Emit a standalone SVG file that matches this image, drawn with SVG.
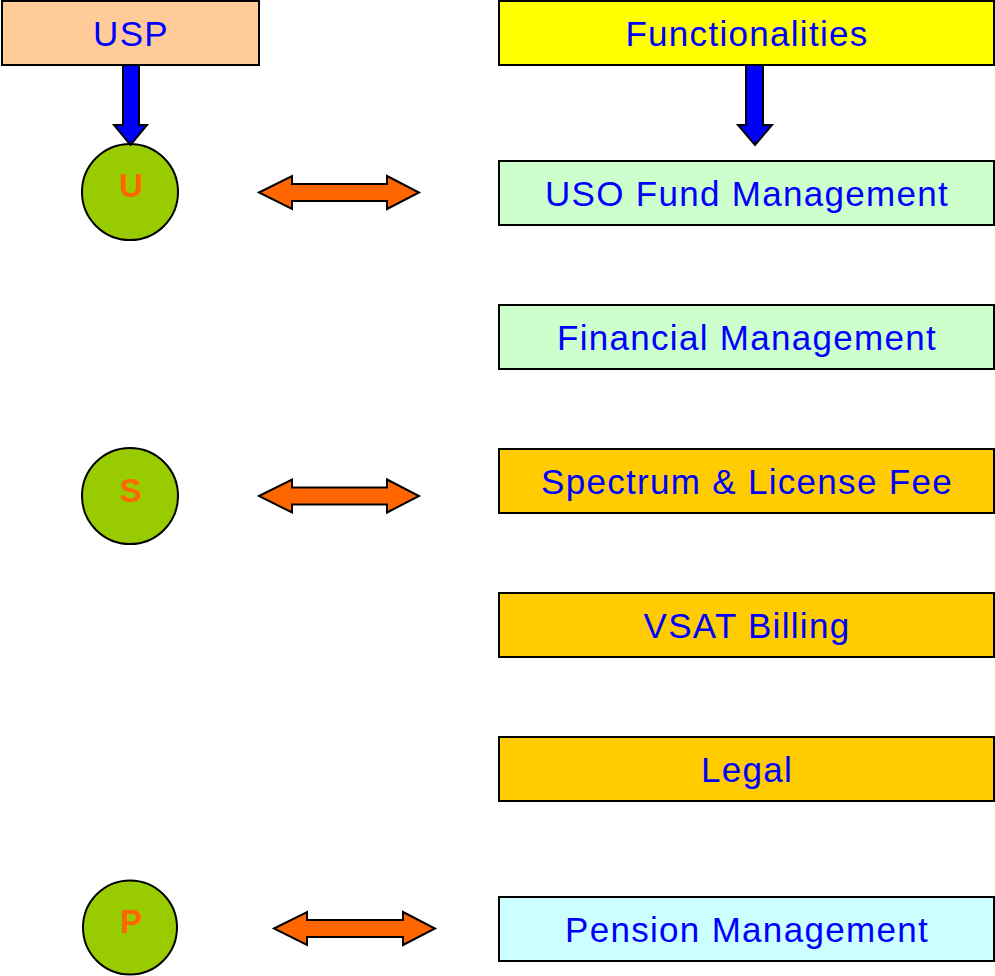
<svg xmlns="http://www.w3.org/2000/svg" width="995" height="976" viewBox="0 0 995 976">
<style>
.box{stroke:#000;stroke-width:2}
.lbl{font-family:"Liberation Sans",Arial,sans-serif;font-size:35px;letter-spacing:1.3px;fill:#0000FF;text-anchor:middle}
.circ{fill:#99CC00;stroke:#000;stroke-width:2}
.cl{font-family:"Liberation Sans",Arial,sans-serif;font-size:33px;font-weight:bold;fill:#FF6600;text-anchor:middle}
.down{fill:#0000FF;stroke:#000;stroke-width:2;stroke-linejoin:miter}
.dbl{fill:#FF6600;stroke:#000;stroke-width:2;stroke-linejoin:miter}
</style>
<rect width="995" height="976" fill="#fff"/>
<g id="usp"><rect class="box" x="2" y="1" width="257" height="64" fill="#FFCC99"/><text class="lbl" x="131" y="46">USP</text></g>
<g id="functionalities"><rect class="box" x="499" y="1" width="495" height="64" fill="#FFFF00"/><text class="lbl" x="747" y="46">Functionalities</text></g>
<g id="uso"><rect class="box" x="499" y="161" width="495" height="64" fill="#CCFFCC"/><text class="lbl" x="747" y="206">USO Fund Management</text></g>
<g id="financial"><rect class="box" x="499" y="305" width="495" height="64" fill="#CCFFCC"/><text class="lbl" x="747" y="350">Financial Management</text></g>
<g id="spectrum"><rect class="box" x="499" y="449" width="495" height="64" fill="#FFCC00"/><text class="lbl" x="747" y="494">Spectrum &amp; License Fee</text></g>
<g id="vsat"><rect class="box" x="499" y="593" width="495" height="64" fill="#FFCC00"/><text class="lbl" x="747" y="638">VSAT Billing</text></g>
<g id="legal"><rect class="box" x="499" y="737" width="495" height="64" fill="#FFCC00"/><text class="lbl" x="747" y="782">Legal</text></g>
<g id="pension"><rect class="box" x="499" y="897" width="495" height="64" fill="#CCFFFF"/><text class="lbl" x="747" y="942">Pension Management</text></g>
<g id="u"><circle class="circ" cx="130" cy="192" r="48"/><text class="cl" x="131" y="197">U</text></g>
<g id="s"><circle class="circ" cx="130" cy="496" r="48"/><text class="cl" x="130.5" y="502">S</text></g>
<g id="p"><circle class="circ" cx="130" cy="927.5" r="47"/><text class="cl" x="131" y="933">P</text></g>
<g id="connectors">
<path class="down" d="M123,65 V125 H114 L130.5,145 L147,125 H139 V65 Z"/>
<path class="down" d="M746,65 V125 H738 L755,145 L772,125 H763 V65 Z"/>
<path class="dbl" d="M259,192.5 L292,176 V184 H387 V176 L419,192.5 L387,209 V201 H292 V209 Z"/>
<path class="dbl" d="M259,496 L292,479.5 V487.5 H387 V479.5 L419,496 L387,512.5 V504.5 H292 V512.5 Z"/>
<path class="dbl" d="M274,928.5 L307,912 V920 H403 V912 L435,928.5 L403,945 V937 H307 V945 Z"/>
</g>
</svg>
